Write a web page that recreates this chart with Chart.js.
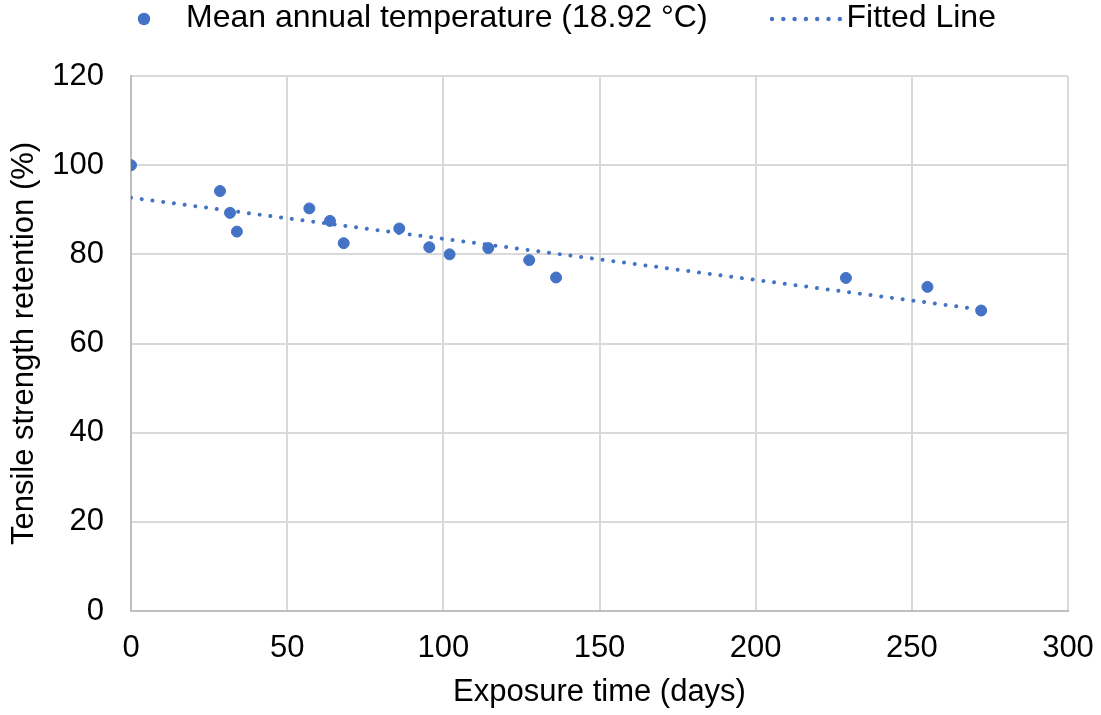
<!DOCTYPE html>
<html>
<head>
<meta charset="utf-8">
<script src="https://cdn.jsdelivr.net/npm/chart.js@4/dist/chart.umd.min.js"></script>
<style>
  html, body { margin: 0; padding: 0; background: #ffffff; }
  #wrap { width: 1101px; height: 715px; }
</style>
</head>
<body>
<div id="wrap"><canvas id="chart" width="1101" height="715"></canvas></div>
<script>
// Measured tensile strength retention versus outdoor exposure time
const exposureDays = [0, 28.5, 31.7, 33.9, 57.1, 63.7, 68.1, 85.9, 95.5, 102.0, 114.4, 127.5, 136.1, 228.9, 255.0, 272.2];
const retention    = [100, 94.2, 89.3, 85.1, 90.3, 87.5, 82.5, 85.8, 81.6, 80.0, 81.4, 78.7, 74.8, 74.7, 72.7, 67.4];

// End points of the linear fit
const fitDays = [0, 272.2];
const fitRetention = [92.7, 67.6];

const seriesLabels = ['Mean annual temperature (18.92 °C)', 'Fitted Line'];
const xTitle = 'Exposure time (days)';
const yTitle = 'Tensile strength retention (%)';

const BLUE = '#4472C4';
const FONT = '"Liberation Sans", Arial, sans-serif';

const measured = exposureDays.map((d, i) => ({ x: d, y: retention[i] }));
const fitted = fitDays.map((d, i) => ({ x: d, y: fitRetention[i] }));

// Legend row drawn across the top of the canvas
const topLegend = {
  id: 'topLegend',
  afterDraw(chart) {
    const ctx = chart.ctx;
    const cy = 18;
    ctx.save();
    ctx.font = '32px ' + FONT;
    ctx.textBaseline = 'middle';
    ctx.textAlign = 'left';

    ctx.beginPath();
    ctx.arc(144, 19, 6.2, 0, Math.PI * 2);
    ctx.fillStyle = BLUE;
    ctx.fill();
    ctx.fillStyle = '#000000';
    ctx.fillText(seriesLabels[0], 186, cy);

    ctx.fillStyle = BLUE;
    for (let i = 0; i < 7; i++) {
      ctx.beginPath();
      ctx.arc(772 + i * 11.3, 19, 2.2, 0, Math.PI * 2);
      ctx.fill();
    }
    ctx.fillStyle = '#000000';
    ctx.fillText(seriesLabels[1], 846.5, cy);
    ctx.restore();
  }
};

new Chart(document.getElementById('chart'), {
  type: 'scatter',
  data: {
    datasets: [
      {
        label: seriesLabels[0],
        data: measured,
        backgroundColor: BLUE,
        borderColor: BLUE,
        borderWidth: 1,
        pointRadius: 5.5,
        pointHoverRadius: 5.5
      },
      {
        label: seriesLabels[1],
        type: 'line',
        data: fitted,
        showLine: true,
        borderColor: BLUE,
        borderWidth: 4,
        borderCapStyle: 'round',
        borderDash: [0.01, 10.8],
        pointRadius: 0,
        fill: false,
        tension: 0
      }
    ]
  },
  options: {
    responsive: false,
    animation: false,
    layout: { padding: { top: 76, right: 33, left: 0, bottom: 0 } },
    plugins: {
      legend: { display: false },
      tooltip: { enabled: false }
    },
    scales: {
      x: {
        type: 'linear',
        min: 0,
        max: 300,
        ticks: { stepSize: 50, padding: 19, color: '#000000', font: { family: FONT, size: 31 } },
        grid: { color: '#d9d9d9', lineWidth: 2, drawTicks: false },
        border: { color: '#bfbfbf', width: 2 },
        title: { display: true, text: xTitle, color: '#000000', font: { family: FONT, size: 31 }, padding: { top: 0, bottom: 4 } },
        afterFit(scale) {
          scale.height = 104;
          scale.paddingLeft = 0;
          scale.paddingRight = 0;
        }
      },
      y: {
        min: 0,
        max: 120,
        ticks: { stepSize: 20, padding: 27, color: '#000000', font: { family: FONT, size: 31 } },
        grid: { color: '#d9d9d9', lineWidth: 2, drawTicks: false },
        border: { color: '#bfbfbf', width: 2 },
        title: { display: true, text: yTitle, color: '#000000', font: { family: FONT, size: 31 }, padding: { top: 6, bottom: 0 } },
        afterFit(scale) {
          scale.width = 131;
          scale.paddingTop = 0;
          scale.paddingBottom = 0;
        }
      }
    }
  },
  plugins: [topLegend]
});
</script>
</body>
</html>
